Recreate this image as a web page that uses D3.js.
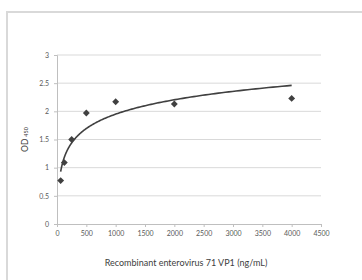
<!DOCTYPE html>
<html><head><meta charset="utf-8">
<script src="https://cdn.jsdelivr.net/npm/d3@7"></script>
<style>body{margin:0;background:#fff}svg{display:block}</style>
</head><body>
<script>
const concentrations = [62.5, 125, 250, 500, 1000, 2000, 4000];
const odValues = [0.77, 1.09, 1.50, 1.97, 2.17, 2.13, 2.23];
const xTicks = [0, 500, 1000, 1500, 2000, 2500, 3000, 3500, 4000, 4500];
const yTicks = [0, 0.5, 1, 1.5, 2, 2.5, 3];
const trendCoef = [0.368, -0.592]; // y = a ln(x) + b
const trendRange = [62.5, 4000];
const xTitle = "Recombinant enterovirus 71 VP1 (ng/mL)";

const W = 362, H = 280;
const svg = d3.select("body").append("svg").attr("width", W).attr("height", H);
svg.append("rect").attr("x", 7).attr("y", 12).attr("width", 400).attr("height", 300)
  .attr("fill", "none").attr("stroke", "#d9d9d9").attr("stroke-width", 2);

const x = d3.scaleLinear().domain([0, 4500]).range([57, 321]);
const y = d3.scaleLinear().domain([0, 3]).range([224, 55]);
const font = "Lato, 'Open Sans', sans-serif";

// gridlines
svg.append("g").selectAll("line").data(yTicks.filter(d => d > 0)).join("line")
  .attr("x1", x(0)).attr("x2", x(4500)).attr("y1", d => y(d)).attr("y2", d => y(d))
  .attr("stroke", "#d9d9d9").attr("stroke-width", 1);

const yAxis = svg.append("g").attr("transform", `translate(${x(0)},0)`)
  .call(d3.axisLeft(y).tickValues(yTicks).tickSize(3).tickFormat(d3.format("~g")).tickPadding(5));
const xAxis = svg.append("g").attr("transform", `translate(0,${y(0)})`)
  .call(d3.axisBottom(x).tickValues(xTicks).tickSize(3).tickFormat(d3.format("d")).tickPadding(4));
[yAxis, xAxis].forEach(a => {
  a.select(".domain").attr("stroke", "#bfbfbf");
  a.selectAll(".tick line").attr("stroke", "#bfbfbf");
  a.selectAll("text").attr("fill", "#595959").style("font-family", font).style("font-size", "7px");
});

// trendline
const lnX = d3.range(0, 201).map(i => trendRange[0] * Math.pow(trendRange[1] / trendRange[0], i / 200));
const line = d3.line().x(d => x(d)).y(d => y(trendCoef[0] * Math.log(d) + trendCoef[1]));
svg.append("path").datum(lnX).attr("d", line).attr("fill", "none")
  .attr("stroke", "#404040").attr("stroke-width", 1.6);

// points
svg.append("g").selectAll("path").data(concentrations.map((c, i) => [c, odValues[i]])).join("path")
  .attr("transform", d => `translate(${x(d[0])},${y(d[1])})`)
  .attr("d", d3.symbol(d3.symbolDiamond2, 30))
  .attr("fill", "#404040");

// titles
svg.append("text").attr("x", 186).attr("y", 266).attr("text-anchor", "middle")
  .attr("fill", "#404040").style("font-family", font).style("font-size", "9px").text(xTitle);
const yt = svg.append("text").attr("transform", `translate(28,${(y(0) + y(3)) / 2}) rotate(-90)`)
  .attr("text-anchor", "middle").attr("fill", "#404040").style("font-family", font).style("font-size", "8.5px");
yt.append("tspan").text("OD");
yt.append("tspan").attr("dx", 2).style("font-size", "5.5px").text("450");
</script>
</body></html>
